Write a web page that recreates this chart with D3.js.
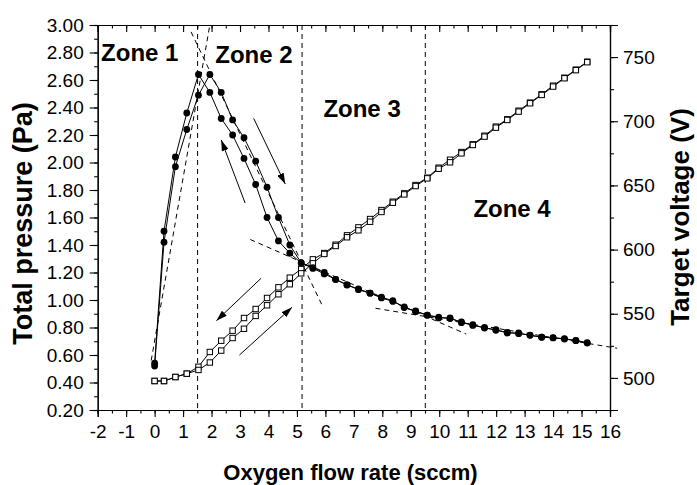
<!DOCTYPE html>
<html><head><meta charset="utf-8">
<script src="https://cdn.jsdelivr.net/npm/d3@7"></script>
<style>
body{margin:0;background:#fff}
svg{display:block}
text{font-family:"Liberation Sans",Arial,Helvetica,sans-serif;fill:#000}
</style>
</head><body>
<svg id="c" width="697" height="485"></svg>
<script>
// ---- data ----
const flow = [0, 0.33, 0.73, 1.13, 1.54, 1.94, 2.34, 2.74, 3.14, 3.55, 3.95, 4.35, 4.75, 5.15, 5.56, 5.96, 6.36, 6.76, 7.16, 7.57, 7.97, 8.37, 8.77, 9.17, 9.58, 9.98, 10.38, 10.78, 11.18, 11.59, 11.99, 12.39, 12.79, 13.19, 13.60, 14.00, 14.40, 14.80, 15.20];
const pressureDecreasing = [0.54, 1.50, 2.04, 2.36, 2.64, 2.51, 2.32, 2.20, 2.03, 1.84, 1.60, 1.43, 1.34, 1.27, 1.235, 1.20, 1.15, 1.11, 1.08, 1.05, 1.02, 0.995, 0.945, 0.92, 0.89, 0.87, 0.87, 0.835, 0.82, 0.796, 0.784, 0.76, 0.76, 0.743, 0.729, 0.726, 0.719, 0.704, 0.687];
const pressureIncreasing = [0.52, 1.42, 1.97, 2.24, 2.49, 2.64, 2.51, 2.31, 2.18, 2.01, 1.82, 1.60, 1.40, 1.27, 1.23, 1.19, 1.15, 1.11, 1.075, 1.05, 1.015, 0.99, 0.95, 0.915, 0.89, 0.875, 0.865, 0.84, 0.815, 0.80, 0.78, 0.765, 0.755, 0.745, 0.73, 0.724, 0.716, 0.706, 0.69];
const voltageDecreasing = [497.6, 497.6, 500.7, 503.3, 508.7, 520.2, 529, 536.8, 546.7, 553.7, 562.3, 570.6, 578.1, 584.9, 592.4, 597.3, 603.8, 611.1, 617.3, 623.8, 630.8, 637.3, 643.8, 650.3, 656.0, 663.8, 670, 676, 682, 688.7, 695.8, 701.5, 708.2, 714.5, 721, 727.7, 733.9, 740.2, 746.4];
const voltageIncreasing = [497.6, 497.6, 500.7, 503.3, 506.2, 512, 521.3, 531.1, 538.3, 548.3, 556.6, 565.2, 573, 581.5, 589.3, 596.6, 602.8, 609.6, 615, 621.7, 629.3, 636.5, 643, 649.5, 655.5, 663, 668, 675, 681.5, 688, 695, 701, 707.5, 714, 720.5, 727, 733.5, 739.8, 746];

const xTicks = [-2, -1, 0, 1, 2, 3, 4, 5, 6, 7, 8, 9, 10, 11, 12, 13, 14, 15, 16];
const xTickLabels = ["-2", "-1", "0", "1", "2", "3", "4", "5", "6", "7", "8", "9", "10", "11", "12", "13", "14", "15", "16"];
const pTicks = [0.2, 0.4, 0.6, 0.8, 1.0, 1.2, 1.4, 1.6, 1.8, 2.0, 2.2, 2.4, 2.6, 2.8, 3.0];
const vTicks = [500, 550, 600, 650, 700, 750];

const zoneBoundaries = [1.51, 5.18, 9.51];
const zoneNames = ["Zone 1", "Zone 2", "Zone 3", "Zone 4"];
const zoneLabelX = [-1.88, 2.13, 5.93, 11.2];
const zoneLabelP = [2.735, 2.727, 2.33, 1.606];
// dashed linear fits, [x1, p1, x2, p2] in flow / pressure units
const fitLines = [
  [-0.12, 0.56, 1.94, 3.0],
  [1.28, 2.95, 5.88, 0.964],
  [3.36, 1.44, 10.95, 0.752],
  [7.76, 0.94, 16.25, 0.649]
];
// direction arrows, [x1, p1, x2, p2] (tail -> head)
const arrows = [
  [3.18, 1.705, 2.34, 2.164],
  [3.48, 2.321, 4.59, 1.843],
  [3.74, 1.158, 2.17, 0.849],
  [2.98, 0.60, 4.83, 0.947]
];

// ---- layout ----
const L = 97.7, R = 610, T = 25, B = 410;
const svg = d3.select("#c");
const x = d3.scaleLinear().domain([-2, 16]).range([L, R]);
const yP = d3.scaleLinear().domain([0.2, 3.0]).range([B, T]);
const yV = d3.scaleLinear().domain([475, 775]).range([B, T]);

const defs = svg.append("defs");
defs.append("marker").attr("id", "ah").attr("markerUnits", "userSpaceOnUse")
  .attr("markerWidth", 12).attr("markerHeight", 7).attr("refX", 11).attr("refY", 3.5)
  .attr("orient", "auto")
  .append("path").attr("d", "M0,0 L11,3.5 L0,7 Z").attr("fill", "#000");

function styleAxis(g) {
  g.select(".domain").attr("stroke", "#000").attr("stroke-width", 1.2);
  g.selectAll(".tick line").attr("stroke", "#000").attr("stroke-width", 1.1);
}
const xMinor = d3.range(-2, 16.01, 0.5);
const pMinor = d3.range(0.2, 3.001, 0.1);
const vMinor = d3.range(475, 775.1, 25);

// bottom axis
const gB = svg.append("g").attr("transform", `translate(0,${B})`)
  .call(d3.axisBottom(x).tickValues(xMinor).tickSize(3.5).tickFormat(""));
const gB2 = svg.append("g").attr("transform", `translate(0,${B})`)
  .call(d3.axisBottom(x).tickValues(xTicks).tickSize(7).tickPadding(6)
    .tickFormat((d, i) => xTickLabels[i]));
gB2.selectAll(".tick text").attr("font-size", 19).attr("dy", "0.78em");
styleAxis(gB); styleAxis(gB2);

// top axis (ticks inward)
const gT = svg.append("g").attr("transform", `translate(0,${T})`)
  .call(d3.axisTop(x).tickValues(xMinor).tickSize(-3.5).tickFormat(""));
const gT2 = svg.append("g").attr("transform", `translate(0,${T})`)
  .call(d3.axisTop(x).tickValues(xTicks).tickSize(-7).tickFormat(""));
styleAxis(gT); styleAxis(gT2);

// left axis
const gL = svg.append("g").attr("transform", `translate(${L},0)`)
  .call(d3.axisLeft(yP).tickValues(pMinor).tickSize(3.5).tickFormat(""));
const gL2 = svg.append("g").attr("transform", `translate(${L},0)`)
  .call(d3.axisLeft(yP).tickValues(pTicks).tickSize(8).tickPadding(6).tickFormat(d3.format(".2f")));
gL2.selectAll(".tick text").attr("font-size", 19);
styleAxis(gL); styleAxis(gL2);

// right axis
const gR = svg.append("g").attr("transform", `translate(${R},0)`)
  .call(d3.axisRight(yV).tickValues(vMinor).tickSize(4).tickFormat(""));
const gR2 = svg.append("g").attr("transform", `translate(${R},0)`)
  .call(d3.axisRight(yV).tickValues(vTicks).tickSize(8).tickPadding(5).tickFormat(d3.format("d")));
gR2.selectAll(".tick text").attr("font-size", 19);
styleAxis(gR); styleAxis(gR2);

// zone boundaries
svg.append("g").selectAll("line").data(zoneBoundaries).join("line")
  .attr("x1", d => x(d)).attr("x2", d => x(d)).attr("y1", T).attr("y2", B)
  .attr("stroke", "#000").attr("stroke-width", 1).attr("stroke-dasharray", "5,4");

// fit lines
svg.append("g").selectAll("line").data(fitLines).join("line")
  .attr("x1", d => x(d[0])).attr("y1", d => yP(d[1])).attr("x2", d => x(d[2])).attr("y2", d => yP(d[3]))
  .attr("stroke", "#000").attr("stroke-width", 1).attr("stroke-dasharray", "5,4");

// series
const lineP = arr => d3.line().x((d, i) => x(flow[i])).y(d => yP(d))(arr);
const lineV = arr => d3.line().x((d, i) => x(flow[i])).y(d => yV(d))(arr);
[voltageDecreasing, voltageIncreasing].forEach(arr => {
  svg.append("path").attr("d", lineV(arr)).attr("fill", "none").attr("stroke", "#000").attr("stroke-width", 1);
});
[pressureDecreasing, pressureIncreasing].forEach(arr => {
  svg.append("path").attr("d", lineP(arr)).attr("fill", "none").attr("stroke", "#000").attr("stroke-width", 1);
});
[voltageDecreasing, voltageIncreasing].forEach(arr => {
  svg.append("g").selectAll("rect").data(arr).join("rect")
    .attr("x", (d, i) => x(flow[i]) - 2.7).attr("y", d => yV(d) - 2.7)
    .attr("width", 5.4).attr("height", 5.4)
    .attr("fill", "#fff").attr("stroke", "#000").attr("stroke-width", 1);
});
[pressureDecreasing, pressureIncreasing].forEach(arr => {
  svg.append("g").selectAll("circle").data(arr).join("circle")
    .attr("cx", (d, i) => x(flow[i])).attr("cy", d => yP(d)).attr("r", 3.4).attr("fill", "#000");
});

// arrows
svg.append("g").selectAll("line").data(arrows).join("line")
  .attr("x1", d => x(d[0])).attr("y1", d => yP(d[1])).attr("x2", d => x(d[2])).attr("y2", d => yP(d[3]))
  .attr("stroke", "#000").attr("stroke-width", 1).attr("marker-end", "url(#ah)");

// zone labels
svg.append("g").selectAll("text").data(zoneNames).join("text")
  .attr("x", (d, i) => x(zoneLabelX[i])).attr("y", (d, i) => yP(zoneLabelP[i]))
  .attr("font-size", 24).attr("font-weight", "bold").text(d => d);

// axis titles
svg.append("text").attr("x", 350.5).attr("y", 480).attr("text-anchor", "middle")
  .attr("font-size", 22).attr("font-weight", "bold").text("Oxygen flow rate (sccm)");
svg.append("text").attr("transform", "translate(32,223.5) rotate(-90)").attr("text-anchor", "middle")
  .attr("font-size", 27).attr("font-weight", "bold").text("Total pressure (Pa)");
svg.append("text").attr("transform", "translate(689,217) rotate(-90)").attr("text-anchor", "middle")
  .attr("font-size", 26).attr("font-weight", "bold").text("Target voltage (V)");
</script>
</body></html>
